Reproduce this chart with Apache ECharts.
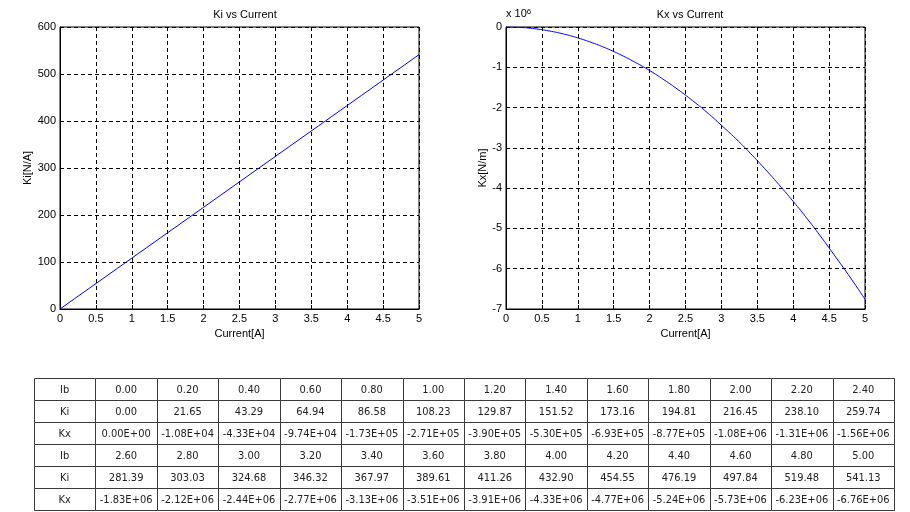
<!DOCTYPE html>
<html><head><meta charset="utf-8">
<script src="https://cdn.jsdelivr.net/npm/echarts@6/dist/echarts.min.js"></script>
<style>html,body{margin:0;padding:0;background:#fff}#c{width:910px;height:512px}</style>
</head><body><div id="c"></div>
<script>
// ---- data ----
const ib = [0.00,0.20,0.40,0.60,0.80,1.00,1.20,1.40,1.60,1.80,2.00,2.20,2.40,
            2.60,2.80,3.00,3.20,3.40,3.60,3.80,4.00,4.20,4.40,4.60,4.80,5.00];
const ki = [0.00,21.65,43.29,64.94,86.58,108.23,129.87,151.52,173.16,194.81,216.45,238.10,259.74,
            281.39,303.03,324.68,346.32,367.97,389.61,411.26,432.90,454.55,476.19,497.84,519.48,541.13];
const kx = [0.00e0,-1.08e4,-4.33e4,-9.74e4,-1.73e5,-2.71e5,-3.90e5,-5.30e5,-6.93e5,-8.77e5,-1.08e6,-1.31e6,-1.56e6,
            -1.83e6,-2.12e6,-2.44e6,-2.77e6,-3.13e6,-3.51e6,-3.91e6,-4.33e6,-4.77e6,-5.24e6,-5.73e6,-6.23e6,-6.76e6];
const titles = ['Ki vs Current','Kx vs Current'];
const yNames = ['Ki[N/A]','Kx[N/m]'];
const xName = 'Current[A]';
const rowLabels = ['Ib','Ki','Kx'];

// ---- helpers ----
const FONT = 'Liberation Sans, Arial, sans-serif';
function fmtE(v){
  let s = v.toExponential(2).replace('e','E');
  return s.replace(/E([+-])(\d)$/, 'E$10$2');
}
const gridLine = {show:true, lineStyle:{color:'#000', type:[4,3], width:1}};
function xAxis(gi){
  return {gridIndex:gi, type:'value', min:0, max:5, interval:0.5,
    name:xName, nameLocation:'middle', nameGap:19,
    nameTextStyle:{color:'#000', fontSize:11, fontFamily:FONT},
    axisLine:{show:true, onZero:false, lineStyle:{color:'#000', width:1}},
    axisTick:{show:true, inside:true, length:4, lineStyle:{color:'#000'}},
    axisLabel:{color:'#000', fontSize:11, fontFamily:FONT, margin:4},
    splitLine:gridLine};
}
function yAxis(gi, min, max, interval, fmt, gap){
  return {gridIndex:gi, type:'value', min:min, max:max, interval:interval,
    name:yNames[gi], nameLocation:'middle', nameGap:gap, nameRotate:90,
    nameTextStyle:{color:'#000', fontSize:11, fontFamily:FONT},
    axisLine:{show:true, onZero:false, lineStyle:{color:'#000', width:1}},
    axisTick:{show:true, inside:true, length:4, lineStyle:{color:'#000'}},
    axisLabel:{color:'#000', fontSize:11, fontFamily:FONT, margin:4, formatter:fmt},
    splitLine:gridLine};
}

// ---- table graphic ----
const tX = 34, tY = 378, tW = 860, nCols = 14, rowH = 22;
const colW = tW / nCols;
const tableEls = [];
const perBlock = 13;
for (let b = 0; b < 2; b++){
  const rowsVals = [
    ib.slice(b*perBlock,(b+1)*perBlock).map(v=>v.toFixed(2)),
    ki.slice(b*perBlock,(b+1)*perBlock).map(v=>v.toFixed(2)),
    kx.slice(b*perBlock,(b+1)*perBlock).map(fmtE)
  ];
  for (let r = 0; r < 3; r++){
    const cells = [rowLabels[r]].concat(rowsVals[r]);
    const y = tY + (b*3 + r)*rowH;
    cells.forEach((txt, c) => {
      const x = tX + c*colW;
      tableEls.push({type:'rect', shape:{x:Math.round(x)+0.5, y:y+0.5, width:Math.round(x+colW)-Math.round(x), height:rowH},
        style:{fill:'#fff', stroke:'#3a3a3a', lineWidth:1}, z:1});
      tableEls.push({type:'text', x:x+colW/2, y:y+rowH/2+1,
        style:{text:txt, fill:'#222', font:'11px "DejaVu Sans Condensed", Tahoma, sans-serif', align:'center', verticalAlign:'middle'}, z:2});
    });
  }
}

const chart = echarts.init(document.getElementById('c'));
chart.setOption({
  animation:false,
  backgroundColor:'#fff',
  title:[
    {text:titles[0], left:240, top:4, textAlign:'center', textStyle:{color:'#000', fontSize:11, fontWeight:'normal', fontFamily:FONT}},
    {text:titles[1], left:685, top:4, textAlign:'center', textStyle:{color:'#000', fontSize:11, fontWeight:'normal', fontFamily:FONT}}
  ],
  grid:[
    {left:60, top:27, width:359, height:282, show:true, borderColor:'#000', borderWidth:1, backgroundColor:'#fff'},
    {left:506, top:27, width:359, height:282, show:true, borderColor:'#000', borderWidth:1, backgroundColor:'#fff'}
  ],
  xAxis:[xAxis(0), xAxis(1)],
  yAxis:[
    yAxis(0, 0, 600, 100, v=>String(v), 27),
    yAxis(1, -7e6, 0, 1e6, v=>String(Math.round(v/1e6)), 17)
  ],
  series:[
    {type:'line', xAxisIndex:0, yAxisIndex:0, data:ib.map((v,i)=>[v,ki[i]]), showSymbol:false, symbol:'none',
      lineStyle:{color:'#0000ee', width:1}, z:5},
    {type:'line', xAxisIndex:1, yAxisIndex:1, data:ib.map((v,i)=>[v,kx[i]]), showSymbol:false, symbol:'none', smooth:true,
      lineStyle:{color:'#0000ee', width:1}, z:5}
  ],
  graphic:[
    {type:'text', left:506, top:8, style:{text:'x 10{s|6}', rich:{s:{fontSize:8, verticalAlign:'top', fill:'#000'}}, fill:'#000', font:'11px '+FONT}}
  ].concat(tableEls)
});
</script></body></html>
